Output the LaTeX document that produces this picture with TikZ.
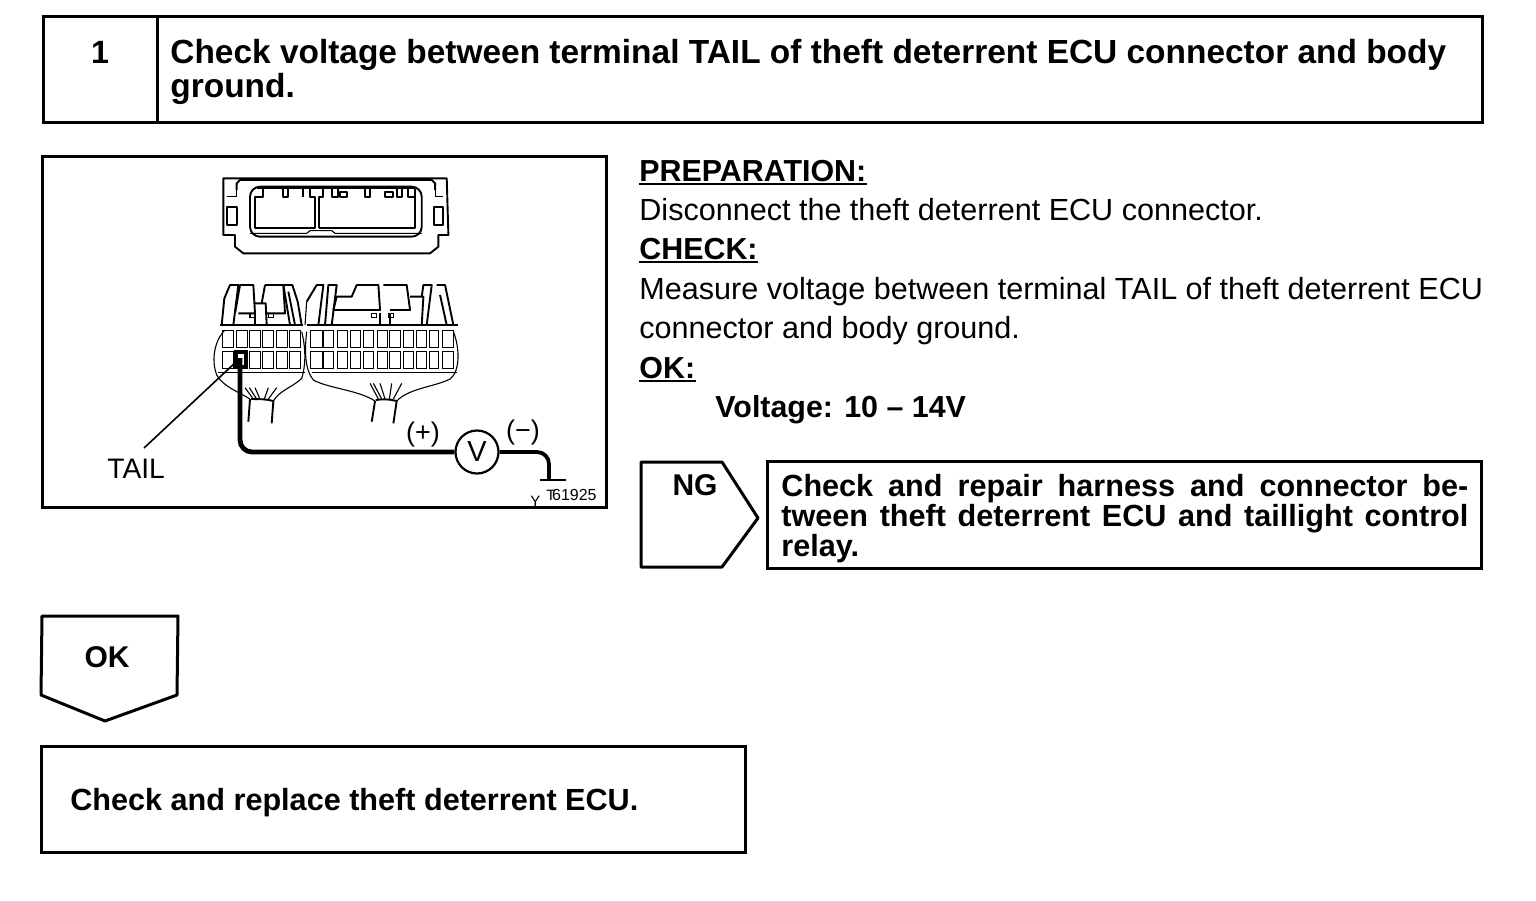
\documentclass[tikz,border=0pt]{standalone}
\usepackage{fontspec}
\setmainfont{Liberation Sans}
\newcommand{\fsz}[1]{\fontsize{#1}{#1}\selectfont}
\tikzset{
  boxline/.style={draw=black,line width=1.5pt},
  rectbox/.style={boxline,fill=white,rectangle,inner sep=0pt,outer sep=0pt,anchor=north west},
  txt/.style={inner sep=0pt,anchor=base west},
  bodyt/.style={txt,font=\fsz{15.28}},
  headt/.style={txt,font=\fsz{16.72}\bfseries},
  stept/.style={txt,font=\fsz{15.3}\bfseries},
  uline/.style={draw=black,line width=1.2pt},
  thin part/.style={draw=black,line width=0.55pt},
  mid part/.style={draw=black,line width=0.95pt,line join=round},
  wire/.style={draw=black,line width=2.4pt,rounded corners=6pt},
  cell/.style={draw=black,line width=0.45pt}
}
\newcommand{\cellrow}[3]{\foreach \a/\b in {#1} {\draw[cell] (\a,#2) rectangle (\b,#3);}}
\begin{document}
\begin{tikzpicture}[x=0.5pt,y=-0.5pt]
\useasboundingbox (0,0) rectangle (1536,900);
\fill[white] (0,0) rectangle (1536,900);

% header
\node[rectbox,minimum width=719.5pt,minimum height=53pt] (head) at (43,16) {};
\coordinate (divt) at (157,16);\coordinate (divb) at (157,122);
\draw[boxline] (divt) -- (divb);
\node[txt,font=\fsz{16.1}\bfseries,anchor=base] (num) at (100,63) {1};
\node[headt] (h1) at (170,63) {Check voltage between terminal TAIL of theft deterrent ECU connector and body};
\node[headt] (h2) at (170,97) {ground.};

% figure frame
\node[rectbox,minimum width=282pt,minimum height=175.5pt] (fig) at (42,156) {};

% top connector
\begin{scope}[shift={(200,165)},x=0.1667pt,y=-0.1667pt]
\draw[mid part] (70,40)--(740,40)--(745,210)--(715,210)--(715,245)--(690,265)--(130,265)--(105,245)--(105,210)--(70,210)--cycle;
\draw[mid part] (110,75)--(110,55)--(120,45)--(695,45)--(705,55)--(705,75);
\draw[thin part] (80,95)--(110,95)--(110,75) (730,95)--(705,95)--(705,75);
\draw[mid part,rounded corners=5pt] (150,65) rectangle (665,215);
\draw[mid part] (82,125) rectangle (110,180);
\draw[mid part] (702,125) rectangle (730,180);
\draw[thin part] (150,205)--(320,205)--(330,197)--(395,197)--(405,205)--(665,205);
\draw[mid part] (190,72)--(190,95)--(165,95)--(165,190)--(345,190)--(345,95)--(330,95)--(330,72);
\draw[mid part] (250,72)--(250,95)--(265,95)--(265,72) (310,72)--(310,95);
\draw[mid part] (357,190)--(357,95)--(370,95)--(370,72) (395,72)--(395,95)--(415,95)--(415,72)
 (420,80) rectangle (440,95);
\draw[mid part] (357,190)--(645,190)--(645,72) (495,72)--(495,95)--(510,95)--(510,72)
 (555,80) rectangle (580,95) (590,72)--(590,95)--(605,95)--(605,72) (625,72)--(625,95)--(645,95);
\draw[mid part] (170,70)--(645,70);
\end{scope}

% harness connectors (coordinates of the enlarged view)
\begin{scope}[shift={(205,275)},x=0.1667pt,y=-0.1667pt]
% left hood
\draw[mid part] (50,150)--(58,70)--(75,30)--(100,30)--(85,150);
\draw[mid part] (90,115)--(105,30)--(145,30)--(150,115)--(100,115);
\draw[mid part] (150,115)--(150,150)--(185,150)--(182,85)--(150,85);
\draw[mid part] (180,30)--(235,30)--(240,115)--(185,115) (180,30)--(170,85);
\draw[mid part] (235,30)--(262,30)--(278,80)--(290,150) (235,30)--(255,150)--(270,150)--(250,50);
\draw[thin part] (45,150)--(295,150);
\draw[thin part] (135,115) rectangle (150,128) (190,115) rectangle (205,128);
% right hood
\draw[mid part] (305,80)--(335,30)--(355,30)--(340,150);
\draw[mid part] (360,150)--(370,30)--(395,30)--(380,150);
\draw[mid part] (385,105)--(395,65)--(440,65)--(455,30)--(520,30)--(525,105)--(385,105);
\draw[mid part] (525,115)--(525,150)--(555,150)--(555,115);
\draw[mid part] (535,30)--(605,30)--(615,105)--(555,105);
\draw[mid part] (650,65)--(655,30)--(680,30)--(665,150)--(650,150)--(655,65)--(615,65);
\draw[mid part] (695,30)--(720,30)--(745,150)--(725,150)--(705,60);
\draw[thin part] (305,150)--(760,150);
\draw[thin part] (305,80)--(300,150);
\draw[thin part] (500,115) rectangle (515,128) (550,115) rectangle (565,128);
% shells
\draw[thin part] (60,165) .. controls (25,200) and (20,260) .. (35,300) .. controls (55,335) and (100,350) .. (135,372);
\draw[thin part] (290,170) .. controls (305,230) and (300,280) .. (290,310) .. controls (265,335) and (225,345) .. (205,378);
\draw[thin part] (305,170) .. controls (298,230) and (300,285) .. (325,315) .. controls (370,340) and (460,345) .. (510,378);
\draw[thin part] (745,170) .. controls (765,220) and (765,290) .. (735,312) .. controls (690,335) and (610,340) .. (575,378);
\draw[thin part] (40,293)--(300,293) (320,293)--(755,293);
% wire bundles
\draw[mid part] (135,372)--(130,440) (138,372) .. controls (160,372) and (185,372) .. (205,378)--(200,445);
\draw[mid part] (510,378)--(500,440) (512,375) .. controls (530,372) and (555,372) .. (575,378)--(565,445);
\foreach \xa/\xb in {120/145,133/155,150/165,190/178,215/190} {\draw[thin part] (\xa,338)--(\xb,372);}
\foreach \xa/\xb in {495/520,505/530,525/540,560/553,590/565} {\draw[thin part] (\xa,325)--(\xb,372);}
\end{scope}
\cellrow{222/233,236/247,249/260,262/273,276/287,289/300}{330}{347}
\cellrow{222/233,249/260,262/273,276/287,289/300}{351}{368}
\cellrow{310/322,323/333,337/347,350/360,363/373,377/387,389/400,403/413,416/426,429/438,442/453}{330}{347}
\cellrow{310/322,323/333,337/347,350/360,363/373,377/387,389/400,403/413,416/426,429/438,442/453}{351}{368}

% terminal
\draw[black,line width=2pt] (236,352) rectangle (246,367);
\coordinate (pin) at (240,358);
\coordinate (tailend) at (144,448);
\coordinate (tailpin) at (237,361);
\draw[black,line width=0.8pt] (tailend) -- (tailpin);
\node[draw=black,line width=1.1pt,circle,minimum size=21.5pt,inner sep=0pt,fill=white,font=\fsz{14.5}] (vm) at (477,452) {V};
\draw[wire] (pin) |- (vm.west);
\coordinate (gnd) at (549,480);
\draw[draw=black,line width=1.9pt,rounded corners=6pt] (vm.east) -| (gnd);
\coordinate (gl) at (540,480);\coordinate (gr) at (566,480);
\draw[black,line width=0.7pt] (gl) -- (gr);
\node[txt,font=\fsz{14.1}] (tail) at (107,478) {TAIL};
\node[txt,font=\fsz{13.5},anchor=base] (plus) at (423,441) {(+)};
\node[txt,font=\fsz{13.5},anchor=base] (minus) at (523,439) {(−)};
\node[txt,font=\fsz{7.5}] (yy) at (530,506) {Y};
\node[txt,font=\fsz{7.5}] (tt) at (546,500) {T};
\node[txt,font=\fsz{8},anchor=base east] (code) at (597,500) {61925};

% right text
\node[bodyt,font=\fsz{15.2}\bfseries] (prep) at (639,181) {PREPARATION:};
\draw[uline] ([yshift=-1.5pt]prep.base west) -- ([yshift=-1.5pt]prep.base east);
\node[bodyt] (disc) at (639,220) {Disconnect the theft deterrent ECU connector.};
\node[bodyt,font=\fsz{15.2}\bfseries] (chk) at (639,259) {CHECK:};
\draw[uline] ([yshift=-1.5pt]chk.base west) -- ([yshift=-1.5pt]chk.base east);
\node[bodyt] (meas) at (639,299) {Measure voltage between terminal TAIL of theft deterrent ECU};
\node[bodyt] (conn) at (639,338) {connector and body ground.};
\node[bodyt,font=\fsz{15.2}\bfseries] (okh) at (639,378) {OK:};
\draw[uline] ([yshift=-1.5pt]okh.base west) -- ([yshift=-1.5pt]okh.base east);
\node[bodyt,font=\fsz{15.2}\bfseries] (volt) at (715,417) {Voltage: 10 – 14V};

% NG
\coordinate (ng1) at (641,462);\coordinate (ng2) at (722,462);\coordinate (ng3) at (758,518);
\coordinate (ng4) at (722,567);\coordinate (ng5) at (641,567);
\draw[boxline,line join=round] (ng1)--(ng2)--(ng3)--(ng4)--(ng5)--cycle;
\node[txt,font=\fsz{15}\bfseries,anchor=base] (ng) at (695,495) {NG};
\node[rectbox,minimum width=357pt,minimum height=53.5pt] (ngbox) at (767,461) {};
\node[stept] (n1) at (781,496) {\makebox[343.5pt][s]{Check and repair harness and connector be-}};
\node[stept] (n2) at (781,526) {\makebox[343.5pt][s]{tween theft deterrent ECU and taillight control}};
\node[stept] (n3) at (781,556) {relay.};

% OK
\coordinate (ok1) at (42,616);\coordinate (ok2) at (178,616);\coordinate (ok3) at (177,695);
\coordinate (ok4) at (105,721);\coordinate (ok5) at (41,695);
\draw[boxline,line join=round] (ok1)--(ok2)--(ok3)--(ok4)--(ok5)--cycle;
\node[txt,font=\fsz{15}\bfseries,anchor=base] (okt) at (107,667) {OK};
\node[rectbox,minimum width=352pt,minimum height=53pt] (last) at (41,746) {};
\node[stept] (lt) at (70,810) {Check and replace theft deterrent ECU.};
\end{tikzpicture}
\end{document}
